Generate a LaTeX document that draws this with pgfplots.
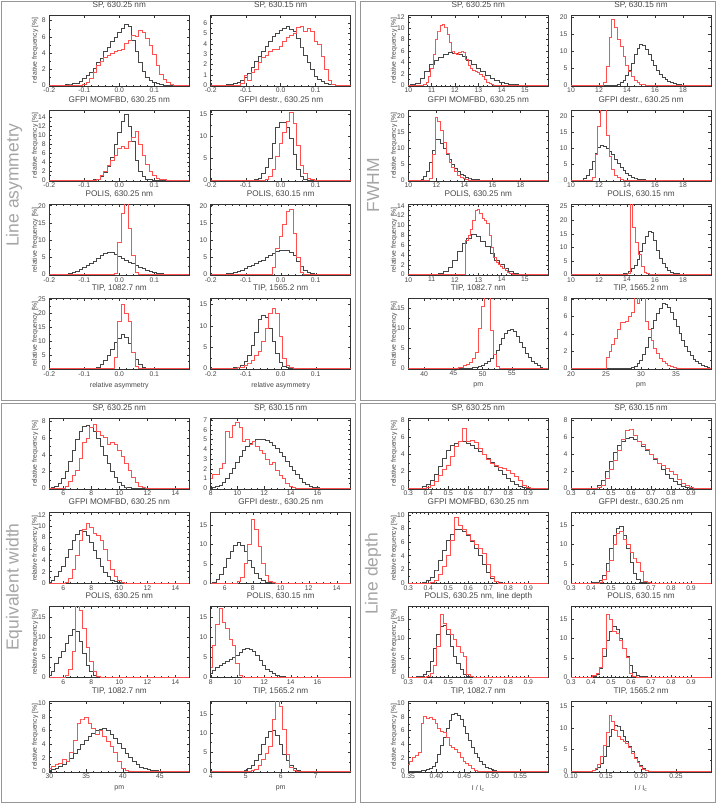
\documentclass[border=0pt]{standalone}
\usepackage{pgfplots}
\pgfplotsset{compat=1.18}
\usepackage{fontspec}
\setmainfont{Liberation Sans}
\definecolor{kcol}{RGB}{70,70,70}
\definecolor{rcol}{RGB}{255,80,80}
\definecolor{fcol}{RGB}{150,150,150}
\definecolor{bigc}{RGB}{165,165,165}
\definecolor{txt}{RGB}{70,70,70}
\pgfplotsset{
  every axis y label/.style={at={(axis description cs:-0.102,0.5)}, rotate=90, anchor=center, font=\fontsize{6.8}{8}\selectfont, text=txt},
  every axis x label/.style={at={(axis description cs:0.5,0)}, anchor=center, yshift=-16pt, font=\fontsize{7}{8}\selectfont, text=txt},
  hp/.style={scale only axis, width=140pt, height=71pt, anchor=north west,
    axis line style={line width=0.5pt, black!80},
    tick align=inside, major tick length=2.6pt, minor tick length=1.4pt,
    every tick/.style={line width=0.4pt, black!80},
    minor x tick num=4, minor y tick num=1,
    tick label style={font=\fontsize{6.8}{8}\selectfont, text=txt},
    /pgf/number format/assume math mode=true,
    title style={font=\fontsize{8.2}{9}\selectfont, at={(0.5,1)}, anchor=base, yshift=2.0pt, inner sep=0pt, text=txt},
    xticklabel style={inner sep=1.2pt, yshift=-0.6pt},
    clip=true},
  kh/.style={const plot mark mid, draw=kcol, line width=0.55pt, mark=none},
  rh/.style={const plot mark mid, draw=rcol, line width=0.6pt, mark=none},
  qa/.style={hp, xmin=-0.2, xmax=0.2, xtick={-0.2,-0.1,0,0.1}, xticklabels={-0.2,-0.1,0.0,0.1}},
  fwa/.style={hp, xmin=10, xmax=16, xtick={10,11,12,13,14,15}, xticklabels={10,11,12,13,14,15}},
  fwb/.style={hp, xmin=10, xmax=20, xtick={10,12,14,16,18}, xticklabels={10,12,14,16,18}, minor x tick num=3},
  ewa/.style={hp, xmin=5, xmax=15, xtick={6,8,10,12,14}, xticklabels={6,8,10,12,14}, minor x tick num=3},
  ewb/.style={hp, xmin=8, xmax=18.5, xtick={8,10,12,14,16}, xticklabels={8,10,12,14,16}, minor x tick num=3},
  lda/.style={hp, xmin=0.3, xmax=1.0, xtick={0.3,0.4,0.5,0.6,0.7,0.8,0.9}, xticklabels={0.3,0.4,0.5,0.6,0.7,0.8,0.9}},
}
\begin{document}
\begin{tikzpicture}
\useasboundingbox (0pt,0pt) rectangle (717pt,-804pt);
\draw[fcol, line width=1.3pt] (1.5pt,-1.5pt) rectangle (355.7pt,-400.3pt);
\draw[fcol, line width=1.3pt] (360.7pt,-1.5pt) rectangle (715.5pt,-400.3pt);
\draw[fcol, line width=1.3pt] (1.5pt,-403.2pt) rectangle (355.7pt,-802.5pt);
\draw[fcol, line width=1.3pt] (360.7pt,-403.2pt) rectangle (715.5pt,-802.5pt);
\node[rotate=90, text=bigc, font=\fontsize{17.5}{18}\selectfont] at (14pt,-185pt) {Line asymmetry};
\node[rotate=90, text=bigc, font=\fontsize{17.5}{18}\selectfont] at (373pt,-185pt) {FWHM};
\node[rotate=90, text=bigc, font=\fontsize{17.5}{18}\selectfont] at (14pt,-587pt) {Equivalent width};
\node[rotate=90, text=bigc, font=\fontsize{17.5}{18}\selectfont] at (373pt,-574pt) {Line depth};

% ================= Line asymmetry =================
\begin{axis}[qa, at={(49.3pt,-15pt)}, title={SP, 630.25 nm}, ymin=-0.1, ymax=8.7, ytick={0,2,4,6,8}, ylabel={relative frequency [\%]}]
\addplot[kh] coordinates {(-0.2,0) (-0.17,0) (-0.16,0.05) (-0.15,0.1) (-0.14,0.15) (-0.13,0.2) (-0.12,0.3) (-0.11,0.5) (-0.10,0.8) (-0.09,1.2) (-0.08,1.6) (-0.07,2.1) (-0.06,2.8) (-0.05,3.3) (-0.04,4.2) (-0.03,4.7) (-0.02,5.4) (-0.01,6.0) (0.00,6.5) (0.01,7.0) (0.02,7.6) (0.03,7.3) (0.04,5.6) (0.05,4.2) (0.06,2.8) (0.07,1.7) (0.08,1.0) (0.09,0.6) (0.10,0.35) (0.11,0.2) (0.12,0.1) (0.13,0.05) (0.14,0) (0.2,0)};
\addplot[rh] coordinates {(-0.2,0) (-0.11,0) (-0.10,0.1) (-0.09,0.4) (-0.08,0.9) (-0.07,1.6) (-0.06,2.5) (-0.05,3.0) (-0.04,3.5) (-0.03,3.7) (-0.02,3.9) (-0.01,4.2) (0.00,4.3) (0.01,4.5) (0.02,5.2) (0.03,5.6) (0.04,6.2) (0.05,6.0) (0.06,6.8) (0.07,6.5) (0.08,5.8) (0.09,5.0) (0.10,3.8) (0.11,2.5) (0.12,1.4) (0.13,0.7) (0.14,0.35) (0.15,0.15) (0.16,0.05) (0.17,0) (0.2,0)};
\end{axis}
\begin{axis}[qa, at={(210.7pt,-15pt)}, title={SP, 630.15 nm}, ymin=-0.08, ymax=6.8, ytick={0,1,2,3,4,5,6}]
\addplot[kh] coordinates {(-0.2,0) (-0.16,0) (-0.15,0.05) (-0.14,0.1) (-0.13,0.2) (-0.12,0.3) (-0.11,0.5) (-0.10,0.8) (-0.09,1.2) (-0.08,1.7) (-0.07,2.3) (-0.06,2.8) (-0.05,3.3) (-0.04,3.8) (-0.03,4.3) (-0.02,4.7) (-0.01,5.0) (0.00,5.3) (0.01,5.5) (0.02,5.7) (0.03,5.4) (0.04,5.2) (0.05,4.5) (0.06,3.7) (0.07,2.9) (0.08,2.2) (0.09,1.5) (0.10,0.9) (0.11,0.6) (0.12,0.35) (0.13,0.2) (0.14,0.1) (0.15,0.05) (0.16,0) (0.2,0)};
\addplot[rh] coordinates {(-0.2,0) (-0.12,0) (-0.11,0.2) (-0.10,1.0) (-0.09,0.5) (-0.08,1.2) (-0.07,1.5) (-0.06,2.2) (-0.05,2.7) (-0.04,2.9) (-0.03,3.3) (-0.02,3.5) (-0.01,3.5) (0.00,3.8) (0.01,4.3) (0.02,4.6) (0.03,4.8) (0.04,5.0) (0.05,5.6) (0.06,5.7) (0.07,5.2) (0.08,5.5) (0.09,5.2) (0.10,4.3) (0.11,4.0) (0.12,2.8) (0.13,1.5) (0.14,0.5) (0.15,0.1) (0.16,0) (0.2,0)};
\end{axis}
\begin{axis}[qa, at={(49.3pt,-110pt)}, title={GFPI MOMFBD, 630.25 nm}, ymin=-0.18, ymax=15.5, ytick={0,2,4,6,8,10,12,14}, ylabel={relative frequency [\%]}]
\addplot[kh] coordinates {(-0.2,0) (-0.08,0) (-0.07,0.1) (-0.06,0.3) (-0.05,0.8) (-0.04,1.8) (-0.03,3.0) (-0.02,5.0) (-0.01,8.0) (0.00,10.5) (0.01,13.0) (0.02,14.6) (0.03,12.0) (0.04,8.5) (0.05,4.5) (0.06,2.0) (0.07,0.8) (0.08,0.3) (0.09,0.1) (0.10,0) (0.2,0)};
\addplot[rh] coordinates {(-0.2,0) (-0.07,0) (-0.06,0.3) (-0.05,1.0) (-0.04,2.0) (-0.03,3.2) (-0.02,4.5) (-0.01,5.5) (0.00,7.0) (0.01,7.5) (0.02,7.0) (0.03,8.5) (0.04,9.5) (0.05,10.8) (0.06,8.0) (0.07,5.5) (0.08,3.5) (0.09,2.0) (0.10,1.0) (0.11,0.5) (0.12,0.2) (0.13,0.1) (0.14,0) (0.2,0)};
\end{axis}
\begin{axis}[qa, at={(210.7pt,-110pt)}, title={GFPI destr., 630.25 nm}, ymin=-0.18, ymax=16, ytick={0,5,10,15}]
\addplot[kh] coordinates {(-0.2,0) (-0.08,0) (-0.07,0.2) (-0.06,0.5) (-0.05,1.5) (-0.04,3.0) (-0.03,5.0) (-0.02,8.5) (-0.01,12.0) (0.00,13.2) (0.01,13.2) (0.02,12.0) (0.03,9.5) (0.04,6.0) (0.05,2.5) (0.06,1.0) (0.07,0.3) (0.08,0.1) (0.09,0) (0.2,0)};
\addplot[rh] coordinates {(-0.2,0) (-0.05,0) (-0.04,0.2) (-0.03,0.8) (-0.02,2.5) (-0.01,5.5) (0.00,8.5) (0.01,11.0) (0.02,13.5) (0.03,15.5) (0.04,13.0) (0.05,8.0) (0.06,3.5) (0.07,1.5) (0.08,0.5) (0.09,0.2) (0.10,0) (0.2,0)};
\end{axis}
\begin{axis}[qa, at={(49.3pt,-204.3pt)}, title={POLIS, 630.25 nm}, ymin=-0.2, ymax=20.4, ytick={0,5,10,15,20}, ylabel={relative frequency [\%]}]
\addplot[kh] coordinates {(-0.2,0) (-0.16,0) (-0.15,0.1) (-0.14,0.3) (-0.13,0.6) (-0.12,1.0) (-0.11,1.6) (-0.10,2.2) (-0.09,2.8) (-0.08,3.4) (-0.07,4.0) (-0.06,4.8) (-0.05,5.5) (-0.04,6.2) (-0.03,6.6) (-0.02,6.5) (-0.01,6.0) (0.00,5.3) (0.01,4.7) (0.02,4.2) (0.03,3.7) (0.04,3.2) (0.05,2.7) (0.06,2.2) (0.07,1.8) (0.08,1.4) (0.09,1.0) (0.10,0.7) (0.11,0.5) (0.12,0.3) (0.13,0.15) (0.14,0.05) (0.15,0) (0.2,0)};
\addplot[rh] coordinates {(-0.2,0) (-0.02,0) (-0.01,0.5) (0.00,9.5) (0.01,17.8) (0.02,21) (0.03,13.4) (0.04,5.6) (0.05,0.8) (0.06,0.1) (0.07,0) (0.2,0)};
\end{axis}
\begin{axis}[qa, at={(210.7pt,-204.3pt)}, title={POLIS, 630.15 nm}, ymin=-0.2, ymax=20.4, ytick={0,5,10,15,20}]
\addplot[kh] coordinates {(-0.2,0) (-0.19,0) (-0.18,0.05) (-0.17,0.1) (-0.16,0.2) (-0.15,0.3) (-0.14,0.5) (-0.13,0.7) (-0.12,1.0) (-0.11,1.4) (-0.10,1.8) (-0.09,2.3) (-0.08,2.8) (-0.07,3.3) (-0.06,3.8) (-0.05,4.3) (-0.04,5.0) (-0.03,5.5) (-0.02,6.2) (-0.01,6.8) (0.00,7.2) (0.01,7.2) (0.02,7.0) (0.03,6.5) (0.04,5.5) (0.05,4.0) (0.06,2.5) (0.07,1.3) (0.08,0.6) (0.09,0.3) (0.10,0.15) (0.11,0.05) (0.12,0) (0.2,0)};
\addplot[rh] coordinates {(-0.2,0) (-0.04,0) (-0.03,0.2) (-0.02,2.0) (-0.01,7.5) (0.00,11.0) (0.01,14.5) (0.02,18.5) (0.03,19.0) (0.04,12.0) (0.05,5.0) (0.06,0.7) (0.07,0.1) (0.08,0) (0.2,0)};
\end{axis}
\begin{axis}[qa, at={(49.3pt,-298.3pt)}, title={TIP, 1082.7 nm}, ymin=-0.25, ymax=25.4, ytick={0,5,10,15,20,25}, ylabel={relative frequency [\%]}, xlabel={relative asymmetry}]
\addplot[kh] coordinates {(-0.2,0) (-0.08,0) (-0.07,0.2) (-0.06,0.6) (-0.05,1.5) (-0.04,3.0) (-0.03,5.0) (-0.02,7.0) (-0.01,9.5) (0.00,11.0) (0.01,12.5) (0.02,11.5) (0.03,9.0) (0.04,6.0) (0.05,3.5) (0.06,1.5) (0.07,0.6) (0.08,0.2) (0.09,0) (0.2,0)};
\addplot[rh] coordinates {(-0.2,0) (-0.03,0) (-0.02,0.2) (-0.01,4.0) (0.00,17.0) (0.01,23.3) (0.02,20.0) (0.03,17.0) (0.04,6.0) (0.05,1.0) (0.06,0.2) (0.07,0) (0.2,0)};
\end{axis}
\begin{axis}[qa, at={(210.7pt,-298.3pt)}, title={TIP, 1565.2 nm}, ymin=-0.18, ymax=16.5, ytick={0,5,10,15}, xlabel={relative asymmetry}]
\addplot[kh] coordinates {(-0.2,0) (-0.15,0) (-0.14,0.1) (-0.13,0.2) (-0.12,0.4) (-0.11,0.8) (-0.10,1.6) (-0.09,3.0) (-0.08,5.5) (-0.07,8.5) (-0.06,11.5) (-0.05,12.6) (-0.04,12.0) (-0.03,9.5) (-0.02,6.5) (-0.01,3.5) (0.00,1.5) (0.01,0.6) (0.02,0.2) (0.03,0.05) (0.04,0) (0.2,0)};
\addplot[rh] coordinates {(-0.2,0) (-0.14,0) (-0.13,0.05) (-0.12,0.2) (-0.11,0.4) (-0.10,0.8) (-0.09,1.3) (-0.08,2.0) (-0.07,3.0) (-0.06,4.0) (-0.05,6.5) (-0.04,9.5) (-0.03,13.0) (-0.02,14.2) (-0.01,13.0) (0.00,7.5) (0.01,2.5) (0.02,0.8) (0.03,0.3) (0.04,0.1) (0.05,0) (0.2,0)};
\end{axis}

% ================= FWHM =================
\begin{axis}[fwa, at={(408.3pt,-15pt)}, title={SP, 630.25 nm}, ymin=-0.13, ymax=12.3, ytick={0,2,4,6,8,10,12}, ylabel={relative frequency [\%]}]
\addplot[kh] coordinates {(10,0) (10.2,0.1) (10.4,0.4) (10.6,1.2) (10.8,2.5) (11.0,3.6) (11.2,4.3) (11.4,4.9) (11.6,5.4) (11.8,5.7) (12.0,5.6) (12.2,5.4) (12.4,5.0) (12.6,4.4) (12.8,3.7) (13.0,3.0) (13.2,2.4) (13.4,1.8) (13.6,1.3) (13.8,0.9) (14.0,0.6) (14.2,0.4) (14.4,0.25) (14.6,0.15) (14.8,0.08) (15.0,0.03) (15.2,0) (16,0)};
\addplot[rh] coordinates {(10,0) (10.6,0) (10.7,0.2) (10.8,0.6) (10.9,1.5) (11.0,3.0) (11.1,5.5) (11.2,8.0) (11.3,9.5) (11.4,10.5) (11.5,10.7) (11.6,10.2) (11.7,9.0) (11.8,7.5) (11.9,6.0) (12.0,5.6) (12.1,5.5) (12.2,5.7) (12.3,6.0) (12.4,5.8) (12.5,4.6) (12.6,3.5) (12.7,3.0) (12.8,2.7) (12.9,2.4) (13.0,2.2) (13.1,1.9) (13.2,1.5) (13.3,1.0) (13.4,0.6) (13.5,0.3) (13.6,0.15) (13.7,0.05) (13.8,0) (16,0)};
\end{axis}
\begin{axis}[fwb, at={(571pt,-15pt)}, title={SP, 630.15 nm}, ymin=-0.22, ymax=20.7, ytick={0,5,10,15,20}]
\addplot[kh] coordinates {(10,0) (13.0,0) (13.2,0.1) (13.4,0.3) (13.6,0.8) (13.8,1.5) (14.0,2.8) (14.2,4.5) (14.4,6.5) (14.6,9.0) (14.8,11.0) (15.0,12.2) (15.2,11.8) (15.4,10.5) (15.6,9.0) (15.8,7.3) (16.0,5.8) (16.2,4.5) (16.4,3.3) (16.6,2.4) (16.8,1.7) (17.0,1.2) (17.2,0.8) (17.4,0.5) (17.6,0.35) (17.8,0.2) (18.0,0.1) (18.2,0.05) (18.4,0) (20,0)};
\addplot[rh] coordinates {(10,0) (12.0,0) (12.2,0.1) (12.4,1.0) (12.6,5.5) (12.8,14.0) (13.0,19.3) (13.2,17.0) (13.4,13.5) (13.6,11.5) (13.8,8.5) (14.0,6.0) (14.2,4.0) (14.4,2.5) (14.6,1.5) (14.8,0.8) (15.0,0.4) (15.2,0.2) (15.4,0.1) (15.6,0) (20,0)};
\end{axis}
\begin{axis}[fwb, at={(408.3pt,-110pt)}, title={GFPI MOMFBD, 630.25 nm}, ymin=-0.24, ymax=22, ytick={0,5,10,15,20}, ylabel={relative frequency [\%]}]
\addplot[kh] coordinates {(10,0) (10.6,0) (10.8,0.1) (11.0,0.4) (11.2,1.2) (11.4,2.8) (11.6,5.5) (11.8,9.5) (12.0,12.8) (12.2,12.8) (12.4,11.5) (12.6,10.0) (12.8,8.2) (13.0,6.5) (13.2,5.0) (13.4,3.8) (13.6,2.8) (13.8,2.0) (14.0,1.4) (14.2,1.0) (14.4,0.7) (14.6,0.45) (14.8,0.3) (15.0,0.2) (15.2,0.12) (15.4,0.08) (15.6,0.04) (15.8,0) (20,0)};
\addplot[rh] coordinates {(10,0) (11.4,0) (11.6,0.5) (11.8,8.0) (12.0,19.7) (12.2,18.5) (12.4,15.5) (12.6,12.0) (12.8,8.5) (13.0,5.5) (13.2,4.0) (13.4,2.8) (13.6,1.6) (13.8,0.9) (14.0,0.5) (14.2,0.2) (14.4,0.1) (14.6,0) (20,0)};
\end{axis}
\begin{axis}[fwb, at={(571pt,-110pt)}, title={GFPI destr., 630.25 nm}, ymin=-0.24, ymax=22, ytick={0,5,10,15,20}]
\addplot[kh] coordinates {(10,0) (10.6,0) (10.8,0.1) (11.0,0.5) (11.2,1.5) (11.4,3.5) (11.6,6.0) (11.8,8.5) (12.0,10.2) (12.2,10.8) (12.4,10.7) (12.6,10.0) (12.8,9.2) (13.0,8.0) (13.2,6.5) (13.4,5.2) (13.6,4.0) (13.8,3.0) (14.0,2.2) (14.2,1.5) (14.4,1.0) (14.6,0.7) (14.8,0.45) (15.0,0.3) (15.2,0.18) (15.4,0.1) (15.6,0.05) (15.8,0) (20,0)};
\addplot[rh] coordinates {(10,0) (11.4,0) (11.6,1.0) (11.8,8.0) (12.0,17.0) (12.2,23.0) (12.4,22.5) (12.6,14.0) (12.8,7.5) (13.0,3.5) (13.2,1.6) (13.4,0.8) (13.6,0.3) (13.8,0.1) (14.0,0) (20,0)};
\end{axis}
\begin{axis}[fwa, at={(408.3pt,-204.3pt)}, title={POLIS, 630.25 nm}, ymin=-0.15, ymax=14.3, ytick={0,2,4,6,8,10,12,14}, ylabel={relative frequency [\%]}]
\addplot[kh] coordinates {(10,0) (11.0,0) (11.2,0.1) (11.4,0.3) (11.6,0.7) (11.8,1.5) (12.0,3.0) (12.2,4.8) (12.4,6.3) (12.6,7.4) (12.8,8.1) (13.0,7.8) (13.2,6.8) (13.4,5.7) (13.6,4.3) (13.8,3.0) (14.0,2.0) (14.2,1.3) (14.4,0.7) (14.6,0.35) (14.8,0.15) (15.0,0.05) (15.2,0) (16,0)};
\addplot[rh] coordinates {(10,0) (12.4,0) (12.5,7.0) (12.6,8.0) (12.7,9.3) (12.8,11.0) (12.9,13.0) (13.0,13.2) (13.1,12.5) (13.2,11.5) (13.3,11.0) (13.4,10.5) (13.5,8.0) (13.6,5.5) (13.7,3.5) (13.8,2.5) (13.9,2.0) (14.0,1.6) (14.1,1.3) (14.2,0.8) (14.3,0.5) (14.4,0.3) (14.5,0.15) (14.6,0.1) (14.7,0.05) (14.8,0) (16,0)};
\end{axis}
\begin{axis}[fwb, at={(571pt,-204.3pt)}, title={POLIS, 630.15 nm}, ymin=-0.27, ymax=25.8, ytick={0,5,10,15,20,25}]
\addplot[kh] coordinates {(10,0) (13.4,0) (13.6,0.1) (13.8,0.3) (14.0,0.6) (14.2,1.2) (14.4,2.2) (14.6,3.5) (14.8,5.5) (15.0,8.5) (15.2,11.5) (15.4,14.0) (15.6,15.8) (15.8,15.5) (16.0,12.5) (16.2,9.0) (16.4,6.0) (16.6,4.0) (16.8,2.6) (17.0,1.6) (17.2,1.0) (17.4,0.6) (17.6,0.35) (17.8,0.2) (18.0,0.1) (18.2,0) (20,0)};
\addplot[rh] coordinates {(10,0) (13.9,0) (14.1,0.3) (14.3,27) (14.5,17.5) (14.7,12.0) (14.9,7.5) (15.1,3.0) (15.3,1.0) (15.5,0.3) (15.7,0.1) (15.9,0) (20,0)};
\end{axis}
\begin{axis}[hp, at={(408.3pt,-298.3pt)}, xmin=37.3, xmax=61.2, xtick={40,45,50,55}, xticklabels={40,45,50,55}, title={TIP, 1082.7 nm}, ymin=-0.18, ymax=17.5, ytick={0,5,10,15}, ylabel={relative frequency [\%]}, xlabel={pm}]
\addplot[kh] coordinates {(37.3,0) (46.5,0) (47.0,0.05) (47.5,0.1) (48.0,0.2) (48.5,0.3) (49.0,0.45) (49.5,0.6) (50.0,0.9) (50.5,1.2) (51.0,1.8) (51.5,2.6) (52.0,3.5) (52.5,4.5) (53.0,6.0) (53.5,7.5) (54.0,8.7) (54.5,9.6) (55.0,9.8) (55.5,9.2) (56.0,8.0) (56.5,6.6) (57.0,5.2) (57.5,3.9) (58.0,2.8) (58.5,1.9) (59.0,1.2) (59.5,0.7) (60.0,0.4) (60.5,0.2) (61.0,0.05) (61.2,0)};
\addplot[rh] coordinates {(37.3,0) (45.0,0) (45.5,0.1) (46.0,0.2) (46.5,0.4) (47.0,0.7) (47.5,1.0) (48.0,1.6) (48.5,2.5) (49.0,4.0) (49.5,10.0) (50.0,15.5) (50.5,19.0) (51.0,19.0) (51.5,9.5) (52.0,3.5) (52.5,0.5) (53.0,0.1) (53.5,0) (61.2,0)};
\end{axis}
\begin{axis}[hp, at={(571pt,-298.3pt)}, xmin=20, xmax=40, xtick={20,25,30,35}, xticklabels={20,25,30,35}, title={TIP, 1565.2 nm}, ymin=-0.09, ymax=8.1, ytick={0,2,4,6,8}, xlabel={pm}]
\addplot[kh] coordinates {(20,0) (28.0,0) (28.4,0.05) (28.8,0.15) (29.2,0.3) (29.6,0.6) (30.0,1.0) (30.4,1.6) (30.8,2.5) (31.2,3.6) (31.6,4.6) (32.0,5.6) (32.4,6.4) (32.8,7.0) (33.2,7.5) (33.6,7.4) (34.0,7.1) (34.4,6.5) (34.8,5.7) (35.2,4.9) (35.6,4.1) (36.0,3.3) (36.4,2.6) (36.8,2.0) (37.2,1.5) (37.6,1.1) (38.0,0.8) (38.4,0.55) (38.8,0.35) (39.2,0.22) (39.6,0.12) (40.0,0.05)};
\addplot[rh] coordinates {(20,0) (24.8,0) (25.2,1.3) (25.6,2.0) (26.0,2.8) (26.4,3.5) (26.8,4.5) (27.2,5.3) (27.6,5.3) (28.0,5.5) (28.4,6.0) (28.8,6.5) (29.2,8.3) (29.6,7.5) (30.0,8.3) (30.4,8.3) (30.8,5.5) (31.2,4.5) (31.6,3.2) (32.0,2.3) (32.4,1.7) (32.8,1.2) (33.2,0.8) (33.6,0.6) (34.0,0.4) (34.4,0.25) (34.8,0.15) (35.2,0.08) (35.6,0) (40,0)};
\end{axis}

% ================= Equivalent width =================
\begin{axis}[ewa, at={(49.3pt,-418pt)}, title={SP, 630.25 nm}, ymin=-0.09, ymax=8.4, ytick={0,2,4,6,8}, ylabel={relative frequency [\%]}]
\addplot[kh] coordinates {(5,0) (5.25,0.1) (5.5,0.25) (5.75,0.6) (6.0,1.2) (6.25,2.0) (6.5,3.2) (6.75,4.6) (7.0,5.9) (7.25,6.8) (7.5,7.4) (7.75,7.5) (8.0,7.3) (8.25,6.8) (8.5,6.0) (8.75,5.0) (9.0,4.0) (9.25,3.0) (9.5,2.0) (9.75,1.3) (10.0,0.7) (10.25,0.35) (10.5,0.15) (10.75,0.06) (11.0,0) (15,0)};
\addplot[rh] coordinates {(5,0) (6.0,0) (6.25,0.2) (6.5,0.8) (6.75,1.5) (7.0,2.1) (7.25,3.6) (7.5,5.5) (7.75,6.0) (8.0,7.3) (8.25,7.6) (8.5,6.8) (8.75,6.3) (9.0,6.1) (9.25,5.2) (9.5,5.5) (9.75,5.2) (10.0,4.5) (10.25,3.8) (10.5,3.0) (10.75,2.2) (11.0,1.3) (11.25,0.7) (11.5,0.25) (11.75,0.08) (12.0,0) (15,0)};
\end{axis}
\begin{axis}[ewb, at={(210.7pt,-418pt)}, title={SP, 630.15 nm}, ymin=-0.08, ymax=7.2, ytick={0,1,2,3,4,5,6,7}]
\addplot[kh] coordinates {(8,0) (8.25,0.1) (8.5,0.2) (8.75,0.35) (9.0,0.6) (9.25,1.0) (9.5,1.5) (9.75,2.0) (10.0,2.7) (10.25,3.3) (10.5,3.9) (10.75,4.3) (11.0,4.6) (11.25,4.8) (11.5,5.0) (11.75,5.05) (12.0,5.0) (12.25,4.9) (12.5,4.7) (12.75,4.4) (13.0,4.1) (13.25,3.7) (13.5,3.3) (13.75,2.8) (14.0,2.3) (14.25,1.8) (14.5,1.4) (14.75,1.0) (15.0,0.65) (15.25,0.4) (15.5,0.22) (15.75,0.1) (16.0,0.05) (16.25,0) (18.5,0)};
\addplot[rh] coordinates {(8.0,1.0) (8.25,1.4) (8.5,1.4) (8.75,2.0) (9.0,2.6) (9.25,5.8) (9.5,5.2) (9.75,6.5) (10.0,6.8) (10.25,6.2) (10.5,4.8) (10.75,5.0) (11.0,4.5) (11.25,4.8) (11.5,4.3) (11.75,3.9) (12.0,3.6) (12.25,3.0) (12.5,2.5) (12.75,2.7) (13.0,1.8) (13.25,1.3) (13.5,1.0) (13.75,0.5) (14.0,0.2) (14.25,0.08) (14.5,0) (18.5,0)};
\end{axis}
\begin{axis}[ewa, at={(49.3pt,-512.7pt)}, title={GFPI MOMFBD, 630.25 nm}, ymin=-0.13, ymax=12.4, ytick={0,2,4,6,8,10,12}, ylabel={relative frequency [\%]}]
\addplot[kh] coordinates {(5.0,0.2) (5.25,0.5) (5.5,1.1) (5.75,2.0) (6.0,3.0) (6.25,4.5) (6.5,6.0) (6.75,7.5) (7.0,8.6) (7.25,9.3) (7.5,9.2) (7.75,8.5) (8.0,7.2) (8.25,5.8) (8.5,4.3) (8.75,3.0) (9.0,1.9) (9.25,1.1) (9.5,0.55) (9.75,0.25) (10.0,0.1) (10.25,0) (15,0)};
\addplot[rh] coordinates {(5,0) (6.0,0) (6.25,0.1) (6.5,0.8) (6.75,2.5) (7.0,4.8) (7.25,7.5) (7.5,9.5) (7.75,10.5) (8.0,9.8) (8.25,8.8) (8.5,8.5) (8.75,7.6) (9.0,6.0) (9.25,4.0) (9.5,2.4) (9.75,1.1) (10.0,0.4) (10.25,0.1) (10.5,0) (15,0)};
\end{axis}
\begin{axis}[ewa, at={(210.7pt,-512.7pt)}, title={GFPI destr., 630.25 nm}, ymin=-0.2, ymax=18.3, ytick={0,5,10,15}]
\addplot[kh] coordinates {(5,0) (5.25,0.3) (5.5,0.9) (5.75,2.2) (6.0,4.2) (6.25,6.3) (6.5,8.3) (6.75,9.8) (7.0,10.5) (7.25,9.9) (7.5,8.2) (7.75,6.0) (8.0,4.0) (8.25,2.4) (8.5,1.3) (8.75,0.6) (9.0,0.25) (9.25,0.1) (9.5,0) (15,0)};
\addplot[rh] coordinates {(5,0) (6.75,0) (7.0,0.3) (7.25,1.5) (7.5,5.0) (7.75,10.0) (8.0,16.5) (8.25,14.0) (8.5,9.5) (8.75,5.0) (9.0,2.0) (9.25,0.5) (9.5,0.1) (9.75,0) (15,0)};
\end{axis}
\begin{axis}[ewa, at={(49.3pt,-606.7pt)}, title={POLIS, 630.25 nm}, ymin=-0.19, ymax=17.5, ytick={0,5,10,15}, ylabel={relative frequency [\%]}]
\addplot[kh] coordinates {(5.0,0.3) (5.25,1.5) (5.5,3.3) (5.75,5.0) (6.0,6.5) (6.25,8.5) (6.5,10.5) (6.75,12.0) (7.0,11.5) (7.25,9.0) (7.5,5.8) (7.75,3.0) (8.0,1.3) (8.25,0.5) (8.5,0.1) (8.75,0) (15,0)};
\addplot[rh] coordinates {(5,0) (6.0,0) (6.25,0.5) (6.5,2.0) (6.75,6.5) (7.0,18.5) (7.25,16.5) (7.5,12.0) (7.75,7.5) (8.0,3.8) (8.25,1.3) (8.5,0.2) (8.75,0) (15,0)};
\end{axis}
\begin{axis}[ewb, at={(210.7pt,-606.7pt)}, title={POLIS, 630.15 nm}, ymin=-0.19, ymax=17.5, ytick={0,5,10,15}]
\addplot[kh] coordinates {(8.0,1.0) (8.25,1.7) (8.5,2.3) (8.75,2.8) (9.0,3.3) (9.25,3.8) (9.5,4.3) (9.75,4.9) (10.0,5.5) (10.25,6.2) (10.5,6.8) (10.75,7.2) (11.0,7.0) (11.25,6.3) (11.5,5.3) (11.75,4.2) (12.0,3.0) (12.25,2.0) (12.5,1.3) (12.75,0.8) (13.0,0.45) (13.25,0.2) (13.5,0.1) (13.75,0) (18.5,0)};
\addplot[rh] coordinates {(8.0,2.5) (8.25,8.0) (8.5,13.0) (8.75,17.0) (9.0,13.5) (9.25,12.0) (9.5,9.5) (9.75,8.0) (10.0,3.5) (10.25,0.3) (10.5,0) (18.5,0)};
\end{axis}
\begin{axis}[hp, at={(49.3pt,-701pt)}, xmin=30, xmax=49, xtick={30,35,40,45}, xticklabels={30,35,40,45}, title={TIP, 1082.7 nm}, ymin=-0.11, ymax=10.35, ytick={0,2,4,6,8,10}, ylabel={relative frequency [\%]}, xlabel={pm}]
\addplot[kh] coordinates {(30.0,0.2) (30.5,0.35) (31.0,0.5) (31.5,0.75) (32.0,1.0) (32.5,1.4) (33.0,1.9) (33.5,2.6) (34.0,3.2) (34.5,4.0) (35.0,4.6) (35.5,5.2) (36.0,5.6) (36.5,6.0) (37.0,6.2) (37.5,6.3) (38.0,6.0) (38.5,5.5) (39.0,4.8) (39.5,4.1) (40.0,3.4) (40.5,2.7) (41.0,2.0) (41.5,1.5) (42.0,1.0) (42.5,0.65) (43.0,0.4) (43.5,0.25) (44.0,0.15) (44.5,0.08) (45.0,0.04) (45.5,0) (49,0)};
\addplot[rh] coordinates {(30.0,0.5) (30.5,0.8) (31.0,1.0) (31.5,1.2) (32.0,1.8) (32.5,1.5) (33.0,2.8) (33.5,4.5) (34.0,7.0) (34.5,7.7) (35.0,8.0) (35.5,7.0) (36.0,6.3) (36.5,5.5) (37.0,6.0) (37.5,5.2) (38.0,4.4) (38.5,3.7) (39.0,2.8) (39.5,1.5) (40.0,0.4) (40.5,0.15) (41.0,0.05) (41.5,0) (49,0)};
\end{axis}
\begin{axis}[hp, at={(210.7pt,-701pt)}, xmin=4, xmax=8, xtick={4,5,6,7}, xticklabels={4,5,6,7}, title={TIP, 1565.2 nm}, ymin=-0.2, ymax=18.4, ytick={0,5,10,15}, xlabel={pm}]
\addplot[kh] coordinates {(4,0) (4.8,0) (4.9,0.1) (5.0,0.3) (5.1,0.8) (5.2,1.6) (5.3,2.8) (5.4,4.5) (5.5,7.0) (5.6,9.0) (5.7,10.5) (5.8,10.7) (5.9,9.5) (6.0,7.0) (6.1,4.5) (6.2,2.8) (6.3,1.5) (6.4,0.7) (6.5,0.3) (6.6,0.1) (6.7,0) (8,0)};
\addplot[rh] coordinates {(4,0) (5.1,0) (5.2,0.2) (5.3,0.6) (5.4,1.5) (5.5,3.0) (5.6,4.8) (5.7,6.5) (5.8,13.5) (5.9,18.5) (6.0,17.0) (6.1,11.0) (6.2,4.5) (6.3,1.0) (6.4,0.2) (6.5,0) (8,0)};
\end{axis}

% ================= Line depth =================
\begin{axis}[lda, at={(408.3pt,-418pt)}, title={SP, 630.25 nm}, ymin=-0.09, ymax=8.3, ytick={0,2,4,6,8}, ylabel={relative frequency [\%]}]
\addplot[kh] coordinates {(0.3,0) (0.34,0) (0.36,0.05) (0.38,0.2) (0.40,0.45) (0.42,0.9) (0.44,1.7) (0.46,2.6) (0.48,3.6) (0.50,4.5) (0.52,5.1) (0.54,5.35) (0.56,5.5) (0.58,5.5) (0.60,5.3) (0.62,5.05) (0.64,4.75) (0.66,4.4) (0.68,4.0) (0.70,3.5) (0.72,3.1) (0.74,2.6) (0.76,2.1) (0.78,1.6) (0.80,1.2) (0.82,0.8) (0.84,0.45) (0.86,0.25) (0.88,0.1) (0.90,0.05) (0.92,0) (1.0,0)};
\addplot[rh] coordinates {(0.3,0) (0.38,0) (0.40,0.1) (0.42,0.3) (0.44,0.8) (0.46,1.5) (0.48,2.2) (0.50,2.7) (0.52,3.8) (0.54,4.9) (0.56,5.6) (0.58,7.1) (0.60,5.6) (0.62,5.7) (0.64,5.4) (0.66,4.7) (0.68,4.0) (0.70,3.4) (0.72,3.0) (0.74,2.7) (0.76,2.5) (0.78,2.3) (0.80,2.1) (0.82,1.8) (0.84,1.4) (0.86,0.9) (0.88,0.4) (0.90,0.15) (0.92,0.05) (0.94,0) (1.0,0)};
\end{axis}
\begin{axis}[lda, at={(571pt,-418pt)}, title={SP, 630.15 nm}, ymin=-0.09, ymax=8.3, ytick={0,2,4,6,8}]
\addplot[kh] coordinates {(0.3,0) (0.40,0) (0.42,0.05) (0.44,0.3) (0.46,0.9) (0.48,2.0) (0.50,3.2) (0.52,4.3) (0.54,5.1) (0.56,5.6) (0.58,5.9) (0.60,6.0) (0.62,5.8) (0.64,5.5) (0.66,5.0) (0.68,4.5) (0.70,4.0) (0.72,3.4) (0.74,2.9) (0.76,2.3) (0.78,1.7) (0.80,1.2) (0.82,0.8) (0.84,0.45) (0.86,0.2) (0.88,0.08) (0.90,0) (1.0,0)};
\addplot[rh] coordinates {(0.3,0) (0.42,0) (0.44,0.1) (0.46,0.4) (0.48,1.2) (0.50,2.2) (0.52,3.3) (0.54,4.5) (0.56,5.8) (0.58,6.8) (0.60,7.0) (0.62,6.3) (0.64,5.6) (0.66,5.2) (0.68,4.6) (0.70,4.0) (0.72,3.5) (0.74,3.0) (0.76,2.7) (0.78,2.3) (0.80,2.0) (0.82,1.6) (0.84,1.1) (0.86,0.6) (0.88,0.3) (0.90,0.1) (0.92,0) (1.0,0)};
\end{axis}
\begin{axis}[lda, at={(408.3pt,-512.7pt)}, title={GFPI MOMFBD, 630.25 nm}, ymin=-0.11, ymax=10.3, ytick={0,2,4,6,8,10}, ylabel={relative frequency [\%]}]
\addplot[kh] coordinates {(0.3,0) (0.36,0) (0.38,0.1) (0.40,0.35) (0.42,0.9) (0.44,1.9) (0.46,3.3) (0.48,4.8) (0.50,6.2) (0.52,7.1) (0.54,7.8) (0.56,7.9) (0.58,7.6) (0.60,7.0) (0.62,6.1) (0.64,5.1) (0.66,4.0) (0.68,2.8) (0.70,1.6) (0.72,0.7) (0.74,0.25) (0.76,0.05) (0.78,0) (1.0,0)};
\addplot[rh] coordinates {(0.3,0) (0.40,0) (0.42,0.1) (0.44,0.4) (0.46,1.2) (0.48,2.4) (0.50,4.0) (0.52,6.2) (0.54,9.7) (0.56,8.4) (0.58,7.9) (0.60,7.2) (0.62,6.2) (0.64,5.6) (0.66,5.1) (0.68,4.3) (0.70,2.8) (0.72,1.0) (0.74,0.2) (0.76,0) (1.0,0)};
\end{axis}
\begin{axis}[lda, at={(571pt,-512.7pt)}, title={GFPI destr., 630.25 nm}, ymin=-0.2, ymax=18.3, ytick={0,5,10,15}]
\addplot[kh] coordinates {(0.3,0) (0.399,0) (0.416,0.05) (0.433,0.2) (0.450,0.6) (0.467,2.0) (0.484,5.0) (0.501,9.0) (0.518,12.5) (0.535,14.3) (0.552,14.8) (0.569,12.5) (0.586,9.0) (0.603,5.5) (0.620,2.5) (0.637,1.0) (0.654,0.3) (0.671,0.1) (0.688,0) (1.0,0)};
\addplot[rh] coordinates {(0.3,0) (0.433,0) (0.450,0.2) (0.467,1.0) (0.484,3.0) (0.501,6.0) (0.518,10.0) (0.535,13.0) (0.552,13.5) (0.569,11.5) (0.586,10.0) (0.603,8.0) (0.620,6.5) (0.637,5.5) (0.654,3.0) (0.671,0.5) (0.688,0.1) (0.705,0) (1.0,0)};
\end{axis}
\begin{axis}[lda, at={(408.3pt,-606.7pt)}, title={POLIS, 630.25 nm, line depth}, ymin=-0.2, ymax=18.3, ytick={0,5,10,15}, ylabel={relative frequency [\%]}]
\addplot[kh] coordinates {(0.3,0) (0.333,0) (0.350,0.05) (0.367,0.2) (0.383,0.6) (0.400,1.6) (0.417,4.0) (0.433,7.5) (0.450,11.0) (0.467,13.3) (0.483,13.5) (0.500,11.0) (0.517,8.0) (0.533,5.5) (0.550,3.5) (0.567,2.0) (0.583,0.8) (0.600,0.25) (0.617,0.05) (0.633,0) (1.0,0)};
\addplot[rh] coordinates {(0.3,0) (0.383,0) (0.400,0.2) (0.417,1.0) (0.433,3.0) (0.450,8.0) (0.467,16.2) (0.483,14.0) (0.500,12.5) (0.517,11.0) (0.533,9.8) (0.550,8.0) (0.567,6.5) (0.583,5.5) (0.600,0.8) (0.617,0.1) (0.633,0) (1.0,0)};
\end{axis}
\begin{axis}[lda, at={(571pt,-606.7pt)}, title={POLIS, 630.15 nm}, ymin=-0.2, ymax=18.3, ytick={0,5,10,15}]
\addplot[kh] coordinates {(0.3,0) (0.400,0) (0.417,0.1) (0.433,0.6) (0.450,2.2) (0.467,5.5) (0.483,9.5) (0.500,12.0) (0.517,13.3) (0.533,12.3) (0.550,10.0) (0.567,7.5) (0.583,5.3) (0.600,3.0) (0.617,1.2) (0.633,0.5) (0.650,0.2) (0.667,0.05) (0.683,0) (1.0,0)};
\addplot[rh] coordinates {(0.3,0) (0.400,0) (0.417,0.3) (0.433,1.0) (0.450,2.5) (0.467,7.5) (0.483,16.2) (0.500,15.0) (0.517,12.0) (0.533,11.5) (0.550,9.5) (0.567,7.5) (0.583,5.0) (0.600,1.0) (0.617,0.1) (0.633,0) (1.0,0)};
\end{axis}
\begin{axis}[hp, at={(408.3pt,-701pt)}, xmin=0.35, xmax=0.6, xtick={0.35,0.40,0.45,0.50,0.55}, xticklabels={0.35,0.40,0.45,0.50,0.55}, title={TIP, 1082.7 nm}, ymin=-0.11, ymax=10.35, ytick={0,2,4,6,8,10}, ylabel={relative frequency [\%]}, xlabel={I / I\textsubscript{c}}]
\addplot[kh] coordinates {(0.35,0) (0.370,0) (0.375,0.1) (0.380,0.2) (0.385,0.3) (0.390,0.5) (0.395,0.8) (0.400,1.3) (0.405,2.5) (0.410,3.8) (0.415,5.0) (0.420,6.3) (0.425,7.5) (0.430,8.4) (0.435,8.6) (0.440,8.3) (0.445,7.6) (0.450,6.7) (0.455,5.6) (0.460,4.6) (0.465,3.6) (0.470,2.7) (0.475,2.0) (0.480,1.4) (0.485,1.0) (0.490,0.65) (0.495,0.4) (0.500,0.25) (0.505,0.12) (0.510,0.05) (0.515,0) (0.6,0)};
\addplot[rh] coordinates {(0.350,1.0) (0.355,1.5) (0.360,2.0) (0.365,2.3) (0.370,2.8) (0.375,7.0) (0.380,8.1) (0.385,7.8) (0.390,8.0) (0.395,7.6) (0.400,7.0) (0.405,6.3) (0.410,5.9) (0.415,5.8) (0.420,5.0) (0.425,3.8) (0.430,3.5) (0.435,3.2) (0.440,2.8) (0.445,2.0) (0.450,1.5) (0.455,1.2) (0.460,0.9) (0.465,0.5) (0.470,0.2) (0.475,0.05) (0.480,0) (0.6,0)};
\end{axis}
\begin{axis}[hp, at={(571pt,-701pt)}, xmin=0.1, xmax=0.3, xtick={0.10,0.15,0.20,0.25}, xticklabels={0.10,0.15,0.20,0.25}, title={TIP, 1565.2 nm}, ymin=-0.18, ymax=16.3, ytick={0,5,10,15}, xlabel={I / I\textsubscript{c}}]
\addplot[kh] coordinates {(0.1,0) (0.124,0) (0.128,0.05) (0.132,0.15) (0.136,0.4) (0.140,0.9) (0.144,1.8) (0.148,3.5) (0.152,5.8) (0.156,8.0) (0.160,9.8) (0.164,10.7) (0.168,10.5) (0.172,9.4) (0.176,8.2) (0.180,7.0) (0.184,5.8) (0.188,4.6) (0.192,3.3) (0.196,2.2) (0.200,1.3) (0.204,0.7) (0.208,0.3) (0.212,0.1) (0.216,0) (0.3,0)};
\addplot[rh] coordinates {(0.1,0) (0.128,0) (0.132,0.2) (0.136,0.6) (0.140,1.5) (0.144,3.5) (0.148,6.0) (0.152,9.0) (0.156,13.0) (0.160,11.5) (0.164,9.5) (0.168,8.0) (0.172,7.5) (0.176,7.0) (0.180,6.5) (0.184,5.5) (0.188,4.2) (0.192,3.0) (0.196,2.0) (0.200,1.1) (0.204,0.5) (0.208,0.2) (0.212,0.05) (0.216,0) (0.3,0)};
\end{axis}
\end{tikzpicture}
\end{document}
